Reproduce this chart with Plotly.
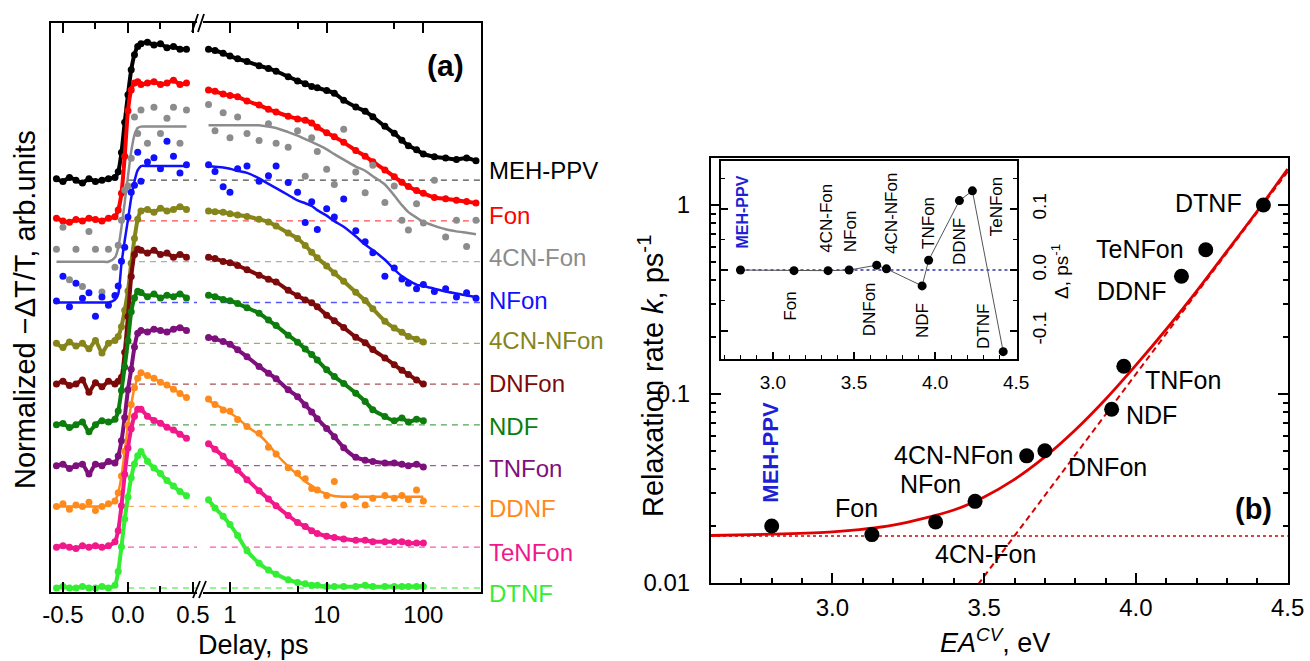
import math
import plotly.graph_objects as go

# ---------------- data : panel (a) ----------------
NAMES_A = ["MEH-PPV", "Fon", "4CN-Fon", "NFon", "4CN-NFon", "DNFon",
           "NDF", "TNFon", "DDNF", "TeNFon", "DTNF"]

T_LIN = [-0.55, -0.5, -0.45, -0.4, -0.35, -0.3, -0.25, -0.2, -0.15, -0.1, -0.075,
         -0.05, -0.025, 0.0, 0.025, 0.05, 0.075, 0.1, 0.15, 0.2, 0.25, 0.3, 0.35, 0.4, 0.45]
T_LOG = [0.6, 0.7, 0.85, 1, 1.2, 1.5, 2, 2.5, 3, 4, 5, 6, 7, 8, 10, 12, 15, 20,
         25, 30, 40, 50, 60, 70, 85, 100]
T_EXT = [130, 170, 220, 280, 350]

MEH_LIN = [0.01, -0.01, 0.02, 0.0, -0.02, 0.01, -0.01, 0.0, 0.01, 0.02, 0.06, 0.2, 0.42,
           0.62, 0.8, 0.91, 0.97, 0.99, 1.0, 0.98, 0.99, 0.96, 0.97, 0.95, 0.95]
MEH_LOG = [0.95, 0.94, 0.92, 0.9, 0.88, 0.86, 0.83, 0.81, 0.79, 0.75, 0.72, 0.7, 0.68, 0.67,
           0.65, 0.63, 0.58, 0.53, 0.5, 0.46, 0.39, 0.34, 0.29, 0.25, 0.22, 0.19]
MEH_EXT = [0.17, 0.16, 0.15, 0.16, 0.14]

FON_LIN = [0.02, 0.0, -0.01, 0.01, 0.0, 0.02, 0.01, 0.0, 0.02, 0.03, 0.08, 0.2, 0.47,
           0.8, 0.95, 1.0, 1.01, 0.99, 1.0, 1.01, 0.99, 1.0, 1.02, 0.99, 1.0]
FON_LOG = [0.95, 0.94, 0.92, 0.91, 0.9, 0.87, 0.84, 0.81, 0.79, 0.76, 0.74, 0.73, 0.71, 0.68,
           0.64, 0.61, 0.57, 0.51, 0.47, 0.43, 0.37, 0.32, 0.28, 0.25, 0.22, 0.2]
FON_EXT = [0.17, 0.16, 0.15, 0.14, 0.13]

CNF_LIN = [0.09, 0.25, -0.13, 0.09, -0.18, 0.22, 0.09, -0.22, 0.09, -0.04, 0.12, 0.3, 0.52,
           0.55, 0.75, 1.05, 0.93, 1.1, 0.86, 1.12, 0.93, 1.04, 1.12, 0.86, 1.1]
CNF_LOG = [1.14, 0.95, 1.08, 0.9, 1.05, 0.93, 0.88, 1.0, 0.86, 0.83, 0.95, 0.62, 0.9, 0.8,
           0.67, 0.56, 0.96, 0.65, 0.5, 0.7, 0.43, 0.55, 0.3, 0.23, 0.42, 0.28]
CNF_EXT = [0.59, 0.18, 0.3, 0.11, 0.3]
CNF_FIT_LIN = [0.0, 0.0, 0.0, 0.0, 0.0, 0.0, 0.0, 0.0, 0.0, 0.03, 0.1, 0.25, 0.43,
               0.62, 0.8, 0.92, 0.97, 0.98, 0.98, 0.98, 0.98, 0.98, 0.98, 0.98, 0.98]
CNF_FIT_LOG = [0.99, 0.99, 0.99, 0.99, 0.99, 0.99, 0.99, 0.98, 0.97, 0.94, 0.915, 0.89, 0.87,
               0.85, 0.815, 0.78, 0.74, 0.69, 0.66, 0.62, 0.56, 0.48, 0.41, 0.36, 0.32, 0.29]
CNF_FIT_EXT = [0.26, 0.235, 0.22, 0.21, 0.2]

NFON_LIN = [0.01, 0.19, -0.03, 0.14, 0.03, 0.07, -0.1, 0.04, -0.02, 0.05, 0.12, 0.3, 0.4,
            0.62, 0.8, 0.85, 1.09, 0.88, 1.02, 1.05, 0.97, 1.17, 1.06, 0.94, 1.0]
NFON_LOG = [1.0, 0.95, 0.84, 0.8, 0.97, 0.99, 0.88, 0.92, 0.99, 0.87, 0.8, 0.58, 0.73, 0.53,
            0.68, 0.62, 0.75, 0.52, 0.44, 0.36, 0.19, 0.25, 0.17, 0.14, 0.1, 0.13]
NFON_EXT = [0.08, 0.1, 0.04, 0.07, 0.03]
NFON_FIT_LIN = [0.0, 0.0, 0.0, 0.0, 0.0, 0.0, 0.0, 0.0, 0.0, 0.02, 0.06, 0.28, 0.45,
                0.6, 0.76, 0.88, 0.96, 0.99, 0.99, 0.99, 0.99, 0.99, 0.99, 0.99, 0.99]
NFON_FIT_LOG = [0.99, 0.985, 0.98, 0.97, 0.955, 0.94, 0.9, 0.86, 0.83, 0.78, 0.74, 0.72, 0.7,
                0.67, 0.63, 0.59, 0.55, 0.48, 0.42, 0.38, 0.31, 0.24, 0.19, 0.16, 0.13, 0.12]
NFON_FIT_EXT = [0.1, 0.08, 0.065, 0.05, 0.04]

CNNF_LIN = [0.0, -0.03, 0.01, -0.02, 0.0, -0.04, 0.02, -0.07, 0.0, 0.02, 0.05, 0.12, 0.24,
            0.38, 0.58, 0.76, 0.9, 0.96, 0.97, 0.95, 0.98, 0.96, 0.97, 0.99, 0.97]
CNNF_LOG = [0.96, 0.955, 0.95, 0.94, 0.93, 0.92, 0.9, 0.88, 0.85, 0.8, 0.76, 0.71, 0.66, 0.62,
            0.56, 0.51, 0.45, 0.37, 0.31, 0.25, 0.16, 0.11, 0.08, 0.05, 0.03, 0.01]

DNF_LIN = [0.0, 0.02, -0.01, 0.0, 0.03, -0.06, 0.01, -0.02, 0.02, 0.0, 0.02, 0.05, 0.23,
           0.49, 0.78, 0.94, 0.98, 0.97, 0.95, 0.97, 0.94, 0.95, 0.92, 0.94, 0.92]
DNF_LOG = [0.92, 0.91, 0.89, 0.88, 0.86, 0.83, 0.79, 0.76, 0.74, 0.68, 0.64, 0.61, 0.59, 0.56,
           0.5, 0.46, 0.41, 0.34, 0.3, 0.25, 0.19, 0.14, 0.1, 0.07, 0.03, 0.0]

NDF_LIN = [0.0, 0.01, -0.02, 0.0, 0.02, -0.05, 0.0, 0.03, 0.02, 0.04, 0.1, 0.25, 0.42,
           0.61, 0.82, 0.92, 0.97, 0.96, 0.93, 0.95, 0.92, 0.94, 0.93, 0.95, 0.92]
NDF_LOG = [0.94, 0.93, 0.91, 0.9, 0.88, 0.85, 0.81, 0.76, 0.72, 0.65, 0.6, 0.55, 0.51, 0.47,
           0.4, 0.35, 0.3, 0.23, 0.17, 0.11, 0.06, 0.03, 0.05, 0.02, 0.04, 0.03]

TNF_LIN = [0.0, 0.01, -0.02, 0.0, 0.01, -0.06, 0.01, 0.0, 0.03, 0.02, 0.07, 0.18, 0.35,
           0.55, 0.7, 0.86, 0.96, 0.98, 0.97, 0.99, 0.98, 0.97, 0.99, 1.0, 0.98]
TNF_LOG = [0.93, 0.92, 0.9, 0.88, 0.84, 0.79, 0.72, 0.67, 0.63, 0.55, 0.5, 0.44, 0.39, 0.34,
           0.27, 0.21, 0.13, 0.06, 0.04, 0.03, 0.02, 0.02, 0.01, 0.0, 0.01, -0.01]

DDNF_LIN = [0.0, 0.02, -0.02, 0.01, 0.0, 0.03, -0.03, 0.0, 0.02, 0.04, 0.1, 0.22, 0.4,
            0.59, 0.74, 0.86, 0.93, 0.97, 0.95, 0.93, 0.9, 0.88, 0.85, 0.82, 0.79]
DDNF_LOG = [0.78, 0.74, 0.7, 0.69, 0.63, 0.58, 0.53, 0.43, 0.38, 0.28, 0.24, 0.2, 0.13, 0.12,
            0.08, 0.18, 0.01, 0.07, 0.01, 0.06, 0.08, 0.06, 0.08, 0.05, 0.12, 0.04]
DDNF_FIT_LIN = [0.0, 0.0, 0.0, 0.0, 0.0, 0.0, 0.0, 0.0, 0.01, 0.04, 0.1, 0.22, 0.4,
                0.59, 0.74, 0.86, 0.93, 0.97, 0.95, 0.93, 0.9, 0.88, 0.85, 0.82, 0.79]
DDNF_FIT_LOG = [0.77, 0.74, 0.71, 0.68, 0.64, 0.58, 0.52, 0.45, 0.38, 0.29, 0.23, 0.18, 0.15,
                0.12, 0.09, 0.075, 0.07, 0.07, 0.07, 0.07, 0.07, 0.07, 0.07, 0.07, 0.07, 0.07]

TENF_LIN = [0.0, 0.01, 0.0, -0.01, 0.01, 0.0, 0.01, 0.0, 0.01, 0.04, 0.12, 0.3, 0.53,
            0.72, 0.86, 0.95, 1.0, 1.0, 0.95, 0.92, 0.9, 0.87, 0.85, 0.82, 0.79]
TENF_LOG = [0.75, 0.71, 0.66, 0.61, 0.56, 0.49, 0.41, 0.35, 0.3, 0.23, 0.18, 0.15, 0.12, 0.1,
            0.08, 0.07, 0.06, 0.05, 0.05, 0.04, 0.04, 0.04, 0.04, 0.03, 0.03, 0.03]

DTNF_LIN = [0.0, 0.01, 0.0, 0.0, 0.01, 0.0, 0.0, 0.01, 0.0, 0.02, 0.12, 0.3, 0.5,
            0.66, 0.8, 0.9, 0.96, 0.99, 0.92, 0.87, 0.83, 0.78, 0.74, 0.7, 0.67]
DTNF_LOG = [0.64, 0.58, 0.52, 0.46, 0.38, 0.27, 0.18, 0.13, 0.1, 0.06, 0.04, 0.03, 0.02, 0.02,
            0.01, 0.01, 0.01, 0.01, 0.02, 0.01, 0.01, 0.01, 0.01, 0.01, 0.01, 0.01]

# ---------------- data : panel (b) ----------------
NAMES_B = ["MEH-PPV", "Fon", "4CN-Fon", "NFon", "4CN-NFon", "DNFon",
           "NDF", "TNFon", "DDNF", "TeNFon", "DTNF"]
EA = [2.80, 3.13, 3.34, 3.47, 3.64, 3.70, 3.92, 3.96, 4.15, 4.23, 4.42]
K_RATE = [0.020, 0.018, 0.021, 0.027, 0.047, 0.050, 0.083, 0.14, 0.42, 0.58, 1.0]
DELTA = [0.000, -0.001, -0.001, 0.000, 0.008, 0.002, -0.026, 0.016, 0.114, 0.130, -0.134]

E_FIT = [2.6, 2.8, 3.0, 3.2, 3.4, 3.5, 3.6, 3.7, 3.8, 3.9, 4.0, 4.1, 4.2, 4.3, 4.4, 4.5]
K_FIT = [0.0178, 0.0181, 0.0186, 0.0202, 0.0243, 0.0285, 0.0353, 0.0464, 0.0644, 0.0937,
         0.142, 0.22, 0.35, 0.57, 0.93, 1.55]
E_DASH = [3.48, 4.5]
K_DASH = [0.0098, 1.5]
E_DOT = [2.6, 4.5]
K_DOT = [0.0177, 0.0177]
E_ZERO = [2.8, 4.45]
D_ZERO = [0.0, 0.0]

# ---------------- styles ----------------
W, H = 1310, 661
FONT = "Arial, 'Liberation Sans', sans-serif"
COLORS = {"MEH-PPV": "#000000", "Fon": "#ff0000", "4CN-Fon": "#8c8c8c", "NFon": "#1010ff",
          "4CN-NFon": "#85851a", "DNFon": "#7d0a0a", "NDF": "#0d7d0d", "TNFon": "#7d107d",
          "DDNF": "#ff8a1c", "TeNFon": "#f0188a", "DTNF": "#33ee33"}
AMP = 3.38


def px(x):
    return x / W


def py(y):
    return 1 - y / H


SERIES = {
    "MEH-PPV": dict(lin=MEH_LIN, log=MEH_LOG, ext=MEH_EXT),
    "Fon": dict(lin=FON_LIN, log=FON_LOG, ext=FON_EXT),
    "4CN-Fon": dict(lin=CNF_LIN, log=CNF_LOG, ext=CNF_EXT,
                    flin=CNF_FIT_LIN, flog=CNF_FIT_LOG, fext=CNF_FIT_EXT),
    "NFon": dict(lin=NFON_LIN, log=NFON_LOG, ext=NFON_EXT,
                 flin=NFON_FIT_LIN, flog=NFON_FIT_LOG, fext=NFON_FIT_EXT),
    "4CN-NFon": dict(lin=CNNF_LIN, log=CNNF_LOG),
    "DNFon": dict(lin=DNF_LIN, log=DNF_LOG),
    "NDF": dict(lin=NDF_LIN, log=NDF_LOG),
    "TNFon": dict(lin=TNF_LIN, log=TNF_LOG),
    "DDNF": dict(lin=DDNF_LIN, log=DDNF_LOG, flin=DDNF_FIT_LIN, flog=DDNF_FIT_LOG),
    "TeNFon": dict(lin=TENF_LIN, log=TENF_LOG),
    "DTNF": dict(lin=DTNF_LIN, log=DTNF_LOG),
}

fig = go.Figure()
LIN_AX = dict(xaxis="x", yaxis="y")
LOG_AX = dict(xaxis="x2", yaxis="y2")

# dashed baselines
for i, name in enumerate(NAMES_A):
    base = 10 - i
    col = COLORS[name]
    for ax, xs in ((LIN_AX, [0.0, 0.6]), (LOG_AX, [0.62, 500])):
        fig.add_trace(go.Scatter(x=xs, y=[base, base], mode="lines", opacity=0.7,
                                 line=dict(color=col, width=1.3, dash="6px,5px"),
                                 hoverinfo="skip", **ax))

# curves
for i, name in enumerate(NAMES_A):
    s = SERIES[name]
    base = 10 - i
    col = COLORS[name]

    def ys(vals):
        return [base + AMP * v for v in vals]

    tlog = T_LOG + (T_EXT if "ext" in s else [])
    vlog = s["log"] + s.get("ext", [])
    mk = dict(color=col, size=7)
    if "flin" in s:
        ftlog = T_LOG + (T_EXT if "fext" in s else [])
        fvlog = s["flog"] + s.get("fext", [])
        fig.add_trace(go.Scatter(x=T_LIN, y=ys(s["flin"]), mode="lines",
                                 line=dict(color=col, width=2.5, shape="spline", smoothing=0.7), **LIN_AX))
        fig.add_trace(go.Scatter(x=ftlog, y=ys(fvlog), mode="lines",
                                 line=dict(color=col, width=2.5, shape="spline", smoothing=0.7), **LOG_AX))
        fig.add_trace(go.Scatter(x=T_LIN, y=ys(s["lin"]), mode="markers", marker=mk, **LIN_AX))
        fig.add_trace(go.Scatter(x=tlog, y=ys(vlog), mode="markers", marker=mk, **LOG_AX))
    else:
        fig.add_trace(go.Scatter(x=T_LIN, y=ys(s["lin"]), mode="lines+markers", marker=mk,
                                 line=dict(color=col, width=4, shape="spline", smoothing=0.6), **LIN_AX))
        fig.add_trace(go.Scatter(x=tlog, y=ys(vlog), mode="lines+markers", marker=mk,
                                 line=dict(color=col, width=4, shape="spline", smoothing=0.6), **LOG_AX))

# panel (b) main
fig.add_trace(go.Scatter(x=E_DOT, y=K_DOT, mode="lines", line=dict(color="#d00000", width=1.5, dash="dot"),
                         xaxis="x3", yaxis="y3"))
fig.add_trace(go.Scatter(x=E_DASH, y=K_DASH, mode="lines", line=dict(color="#d00000", width=2, dash="6px,4px"),
                         xaxis="x3", yaxis="y3"))
fig.add_trace(go.Scatter(x=E_FIT, y=K_FIT, mode="lines",
                         line=dict(color="#e00000", width=2.8, shape="spline", smoothing=0.8),
                         xaxis="x3", yaxis="y3"))
fig.add_trace(go.Scatter(x=EA, y=K_RATE, mode="markers", marker=dict(color="black", size=15),
                         xaxis="x3", yaxis="y3"))

# inset
fig.add_trace(go.Scatter(x=E_ZERO, y=D_ZERO, mode="lines", line=dict(color="#3030a0", width=1.6, dash="dot"),
                         xaxis="x4", yaxis="y4"))
fig.add_trace(go.Scatter(x=EA, y=DELTA, mode="lines+markers", line=dict(color="#555555", width=1),
                         marker=dict(color="black", size=9), xaxis="x4", yaxis="y4"))

# ---------------- axes ----------------
TICK = dict(ticks="inside", tickcolor="black", tickwidth=1.5, showgrid=False, zeroline=False,
            showline=True, linecolor="black", linewidth=2, automargin=False)
ya_dom = [py(592), py(22.7)]
fig.update_layout(
    template="none",
    width=W, height=H, margin=dict(l=0, r=0, t=0, b=0, pad=0, autoexpand=False),
    paper_bgcolor="white", plot_bgcolor="white", showlegend=False,
    font=dict(family=FONT, size=24, color="black"),
    xaxis=dict(domain=[px(51), px(197)], range=[-0.592, 0.531], anchor="y", mirror="ticks",
               ticklen=10, tickvals=[-0.5, 0.0, 0.5], ticktext=["-0.5", "0.0", "0.5"],
               minor=dict(tickvals=[-0.25, 0.25], ticks="inside", ticklen=6, tickwidth=1.5, tickcolor="black"),
               tickfont=dict(size=24), ticklabelstandoff=0, **TICK),
    xaxis2=dict(domain=[px(203), px(481)], type="log", range=[-0.279, 2.596], anchor="y2", mirror="ticks",
                ticklen=10, tickvals=[1, 10, 100], ticktext=["1", "10", "100"],
                minor=dict(tickvals=[5, 50], ticks="inside", ticklen=6, tickwidth=1.5, tickcolor="black"),
                tickfont=dict(size=24), ticklabelstandoff=0, **TICK),
    yaxis=dict(domain=ya_dom, range=[-0.098, 13.86], anchor="x", showticklabels=False, automargin=False,
               showgrid=False, zeroline=False, showline=True, linecolor="black", linewidth=2, ticks=""),
    yaxis2=dict(domain=ya_dom, range=[-0.098, 13.86], anchor="x2", side="right", showticklabels=False,
                automargin=False,
                showgrid=False, zeroline=False, showline=True, linecolor="black", linewidth=2, ticks=""),
    xaxis3=dict(domain=[px(711), px(1288)], range=[2.6, 4.501], anchor="y3", mirror=True, ticklen=10,
                tickvals=[3.0, 3.5, 4.0, 4.5], ticktext=["3.0", "3.5", "4.0", "4.5"],
                minor=dict(tickvals=[2.7, 2.8, 2.9, 3.1, 3.2, 3.3, 3.4, 3.6, 3.7, 3.8, 3.9, 4.1, 4.2, 4.3, 4.4],
                           ticks="inside", ticklen=5, tickwidth=1.5, tickcolor="black"),
                tickfont=dict(size=24), ticklabelstandoff=2, **TICK),
    yaxis3=dict(domain=[py(583), py(158)], type="log", range=[-2.001, 0.249], anchor="x3", mirror="ticks",
                ticklen=10, tickvals=[0.01, 0.1, 1], ticktext=["0.01", "0.1", "1"],
                minor=dict(tickvals=[0.02, 0.03, 0.04, 0.05, 0.06, 0.07, 0.08, 0.09,
                                     0.2, 0.3, 0.4, 0.5, 0.6, 0.7, 0.8, 0.9],
                           ticks="inside", ticklen=5, tickwidth=1.5, tickcolor="black"),
                tickfont=dict(size=24), ticklabelstandoff=14, **TICK),
    xaxis4=dict(domain=[px(721), px(1017)], range=[2.68, 4.505], anchor="y4", mirror=True, ticklen=7,
                tickvals=[3.0, 3.5, 4.0, 4.5], ticktext=["3.0", "3.5", "4.0", "4.5"],
                minor=dict(tickvals=[2.7, 2.8, 2.9, 3.1, 3.2, 3.3, 3.4, 3.6, 3.7, 3.8, 3.9, 4.1, 4.2, 4.3, 4.4],
                           ticks="inside", ticklen=4, tickwidth=1.2, tickcolor="black"),
                tickfont=dict(size=19), ticklabelstandoff=5, **TICK),
    yaxis4=dict(domain=[py(359), py(161)], range=[-0.146, 0.179], anchor="x4", side="right", mirror="ticks",
                ticklen=7, tickvals=[-0.1, 0.0, 0.1], ticktext=["-0.1", "0.0", "0.1"], tickangle=-90,
                minor=dict(tickvals=[-0.05, 0.05, 0.15], ticks="inside", ticklen=4, tickwidth=1.2, tickcolor="black"),
                tickfont=dict(size=19), ticklabelstandoff=4, **TICK),
)
fig.update_layout(xaxis4_linewidth=1.5, yaxis4_linewidth=1.5)

# ---------------- break marks ----------------
for (x0, y0, x1, y1) in [(193, 598, 200, 581), (199, 598, 206, 581), (192, 32, 198, 14), (198, 32, 204, 14)]:
    fig.add_shape(type="line", xref="paper", yref="paper", x0=px(x0), y0=py(y0), x1=px(x1), y1=py(y1),
                  line=dict(color="black", width=1.8))

ann = []


def paper_text(x, y, text, size, color="black", angle=0, xanchor="center"):
    ann.append(dict(x=px(x), y=py(y), xref="paper", yref="paper", xanchor=xanchor, yanchor="middle",
                    text=text, textangle=angle, showarrow=False, font=dict(size=size, color=color)))


LABEL_Y_A = [170, 215, 257, 300, 340, 383, 426, 468, 508, 552, 593]
for name, yc in zip(NAMES_A, LABEL_Y_A):
    paper_text(487, yc, name, 24, COLORS[name], xanchor="left")
paper_text(445, 66, "<b>(a)</b>", 30)
paper_text(25, 310, "Normalized \u2212\u0394T/T, arb.units", 29, angle=-90)
paper_text(253, 645, "Delay, ps", 27)

SHIFT_B = [(-1, 74), (-15, 27), (50, -32), (-45, 17), (-73, 1), (63, -16),
           (40, -6), (59, -14), (-50, -15), (-66, 1), (-55, 2)]
for name, e, k, (dx, dy) in zip(NAMES_B, EA, K_RATE, SHIFT_B):
    if name == "MEH-PPV":
        ann.append(dict(x=e, y=math.log10(k), xref="x3", yref="y3", xshift=dx, yshift=dy,
                        xanchor="center", yanchor="middle",
                        text="<b>MEH-PPV</b>", textangle=-90, showarrow=False,
                        font=dict(size=22, color="#1f1fd6")))
    else:
        ann.append(dict(x=e, y=math.log10(k), xref="x3", yref="y3", xshift=dx, yshift=dy,
                        xanchor="center", yanchor="middle",
                        text=name, showarrow=False, font=dict(size=25)))
paper_text(1253, 509, "<b>(b)</b>", 29)
paper_text(651, 376, "Relaxation rate <i>k</i>, ps<sup>-1</sup>", 29, angle=-90)
paper_text(995, 641, "<i>EA</i><sup><i>CV</i></sup>, eV", 27)

SHIFT_I = [(2, 58), (-3, -35), (-1, 52), (1, 39), (14, 52), (-17, -40),
           (1, -35), (0, 37), (0, -41), (24, -15), (-20, 25)]
for name, e, d, (dx, dy) in zip(NAMES_B, EA, DELTA, SHIFT_I):
    if name == "MEH-PPV":
        ann.append(dict(x=e, y=d, xref="x4", yref="y4", xshift=dx, yshift=dy, text="<b>MEH-PPV</b>",
                        xanchor="center", yanchor="middle",
                        textangle=-90, showarrow=False, font=dict(size=16, color="#1f1fd6")))
    else:
        ann.append(dict(x=e, y=d, xref="x4", yref="y4", xshift=dx, yshift=dy, text=name,
                        xanchor="center", yanchor="middle",
                        textangle=-90, showarrow=False, font=dict(size=17)))
paper_text(1060, 272, "\u0394, ps<sup>-1</sup>", 19, angle=-90)

fig.update_layout(annotations=ann)
fig.write_html("out.html", config={"displayModeBar": False},
               post_script="document.body.style.margin='0px';")
